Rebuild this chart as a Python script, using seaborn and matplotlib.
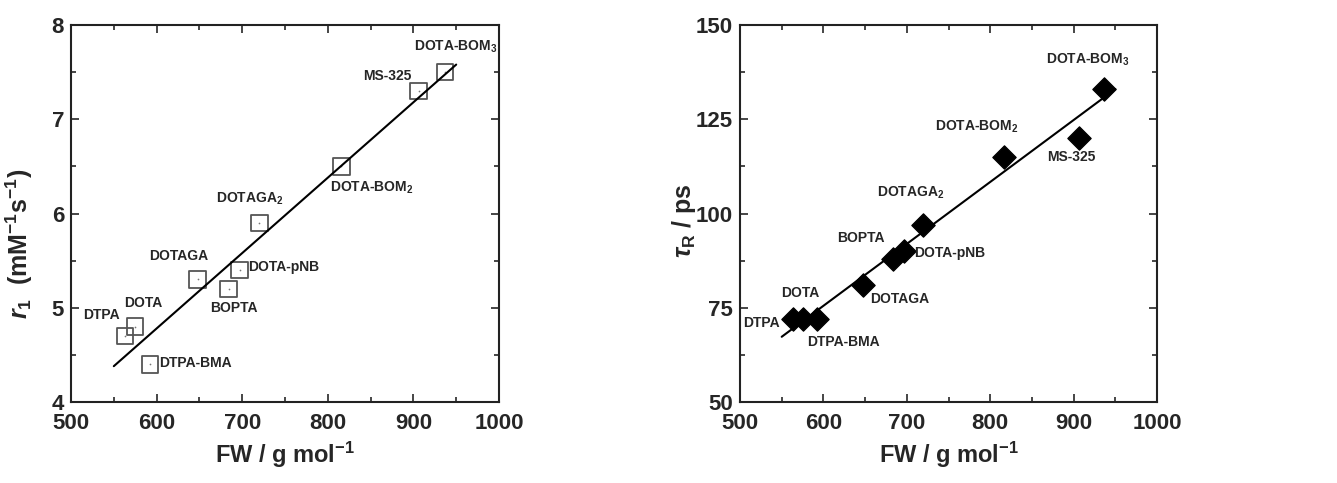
import numpy as np
import pandas as pd
import matplotlib.pyplot as plt
import seaborn as sns
from matplotlib.ticker import MultipleLocator

# data
names = ['DTPA', 'DOTA', 'DTPA-BMA', 'DOTAGA', 'BOPTA', 'DOTA-pNB',
         'DOTAGA$_2$', 'DOTA-BOM$_2$', 'MS-325', 'DOTA-BOM$_3$']
fw = [563, 575, 592, 648, 684, 697, 720, 816, 906, 937]
r1 = [4.7, 4.8, 4.4, 5.3, 5.2, 5.4, 5.9, 6.5, 7.3, 7.5]
tau_r = [72, 72, 72, 81, 88, 90, 97, 115, 120, 133]

# fitted lines (end points)
fit_x = [550, 950]
r1_fit = [4.38, 7.58]
tau_fit = [67.3, 133.0]

# label positions (left edge, centre) in data units
r1_lab_x = [514, 562, 603, 591, 663, 707, 669, 803, 841, 901]
r1_lab_y = [4.92, 5.05, 4.41, 5.55, 5.0, 5.43, 6.16, 6.27, 7.46, 7.77]
tau_lab_x = [504, 549, 580, 656, 616, 709, 664, 734, 868, 867]
tau_lab_y = [71, 79, 66, 77.3, 93.5, 89.5, 105.4, 123, 115, 140.7]

df = pd.DataFrame({'name': names, 'fw': fw, 'r1': r1, 'tau': tau_r})
fit = pd.DataFrame({'fw': fit_x, 'r1': r1_fit, 'tau': tau_fit})

sns.set_style('ticks')
plt.rcParams['font.family'] = ['Liberation Sans', 'DejaVu Sans']
plt.rcParams['font.weight'] = 'bold'
plt.rcParams['mathtext.fontset'] = 'custom'
plt.rcParams['mathtext.rm'] = 'Liberation Sans:bold'
plt.rcParams['mathtext.bf'] = 'Liberation Sans:bold'
plt.rcParams['mathtext.it'] = 'Liberation Sans:italic:bold'

fig = plt.figure(figsize=(13.37, 4.83), dpi=100)
ax1 = fig.add_axes([71 / 1337, 1 - 402 / 483, 428 / 1337, 377 / 483])
ax2 = fig.add_axes([740 / 1337, 1 - 402 / 483, 417 / 1337, 377 / 483])

# left panel: r1
sns.lineplot(data=fit, x='fw', y='r1', ax=ax1, color='black', lw=1.5)
sns.scatterplot(data=df, x='fw', y='r1', ax=ax1, marker='s', s=140,
                facecolor='none', edgecolor='#555555', linewidth=1.3)
sns.scatterplot(data=df, x='fw', y='r1', ax=ax1, marker='.', s=6,
                color='#777777', linewidth=0)
for n, x, y in zip(names, r1_lab_x, r1_lab_y):
    ax1.text(x, y, n, fontsize=10, fontweight='bold', va='center', ha='left')
ax1.set_xlim(500, 1000)
ax1.set_ylim(4, 8)
ax1.yaxis.set_major_locator(MultipleLocator(1))
ax1.yaxis.set_minor_locator(MultipleLocator(0.5))
ax1.set_ylabel(r'$\mathit{r}_\mathbf{1}$  (mM$^{-1}$s$^{-1}$)', fontsize=18,
               fontweight='bold')
ax1.yaxis.set_label_coords(-0.085, 0.42)

# right panel: tau_R
sns.lineplot(data=fit, x='fw', y='tau', ax=ax2, color='black', lw=1.5)
sns.scatterplot(data=df, x='fw', y='tau', ax=ax2, marker='D', s=140,
                color='black', edgecolor='black')
for n, x, y in zip(names, tau_lab_x, tau_lab_y):
    ax2.text(x, y, n, fontsize=10, fontweight='bold', va='center', ha='left')
ax2.set_xlim(500, 1000)
ax2.set_ylim(50, 150)
ax2.yaxis.set_major_locator(MultipleLocator(25))
ax2.yaxis.set_minor_locator(MultipleLocator(12.5))
ax2.set_ylabel(r'$\tau_\mathrm{R}$ / ps', fontsize=18, fontweight='bold')
ax2.yaxis.set_label_coords(-0.1, 0.48)

for ax in (ax1, ax2):
    ax.xaxis.set_major_locator(MultipleLocator(100))
    ax.xaxis.set_minor_locator(MultipleLocator(50))
    ax.tick_params(which='both', direction='in', top=True, right=True,
                   labelsize=16, width=1.2)
    ax.tick_params(which='major', length=6)
    ax.tick_params(which='minor', length=3.5)
    ax.tick_params(axis='x', which='major', pad=8)
    ax.tick_params(axis='y', which='major', pad=5)
    for lab in ax.get_xticklabels() + ax.get_yticklabels():
        lab.set_fontweight('bold')
    for sp in ax.spines.values():
        sp.set_linewidth(1.5)
        sp.set_color('#222222')
    ax.set_xlabel('FW / g mol$^{-1}$', fontsize=17, fontweight='bold',
                  labelpad=4)

fig.savefig('out.png', dpi=100)
